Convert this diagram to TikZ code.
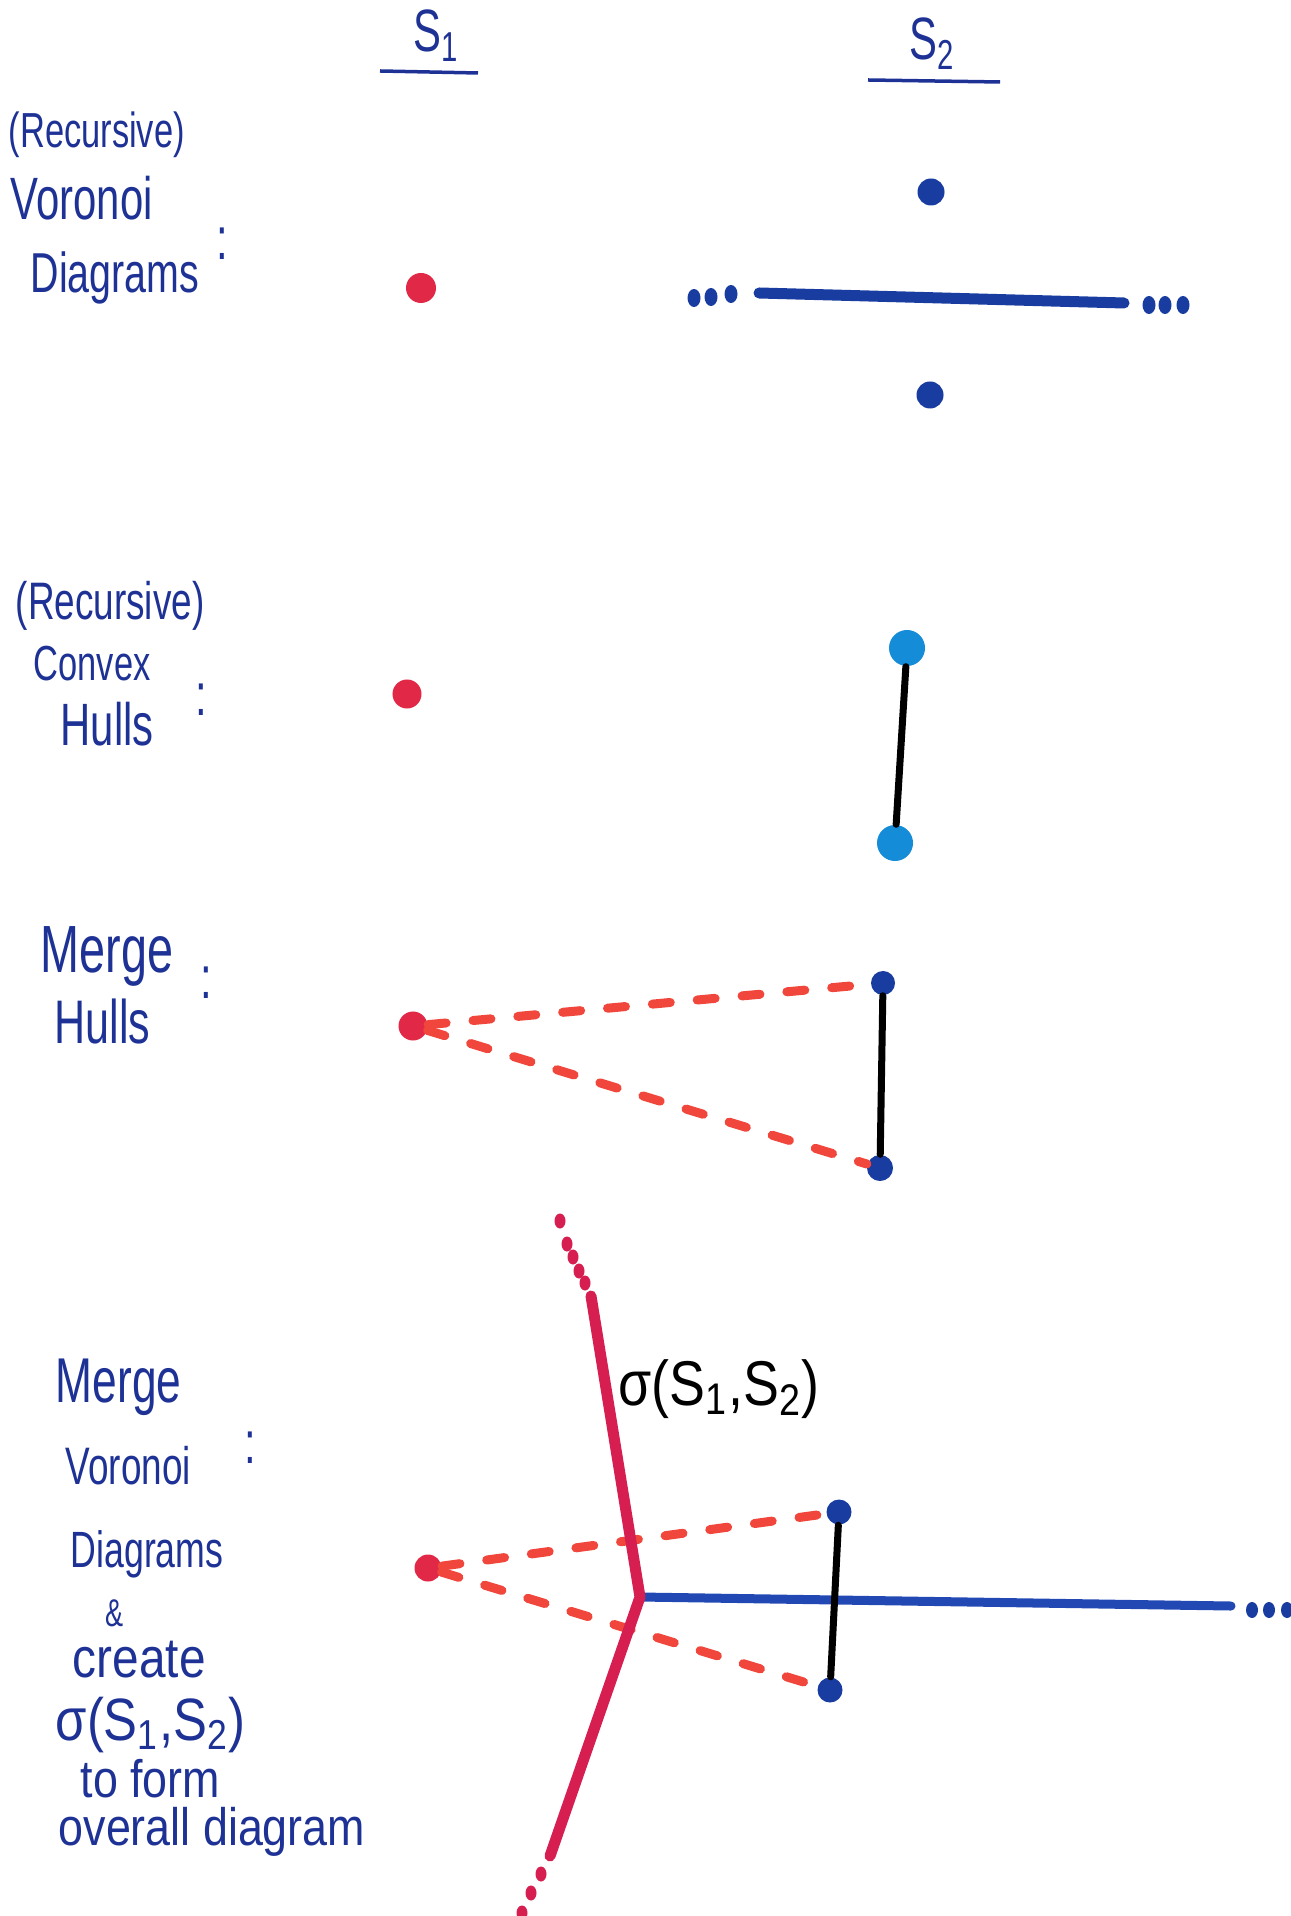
\documentclass[tikz,border=0pt]{standalone}
\usepackage{fontspec}
\usepackage{xcolor}
\newfontfamily\hand[FakeStretch=0.7]{Liberation Sans}
\newfontfamily\handwide[FakeStretch=0.85]{Liberation Sans}
\newcommand{\handsize}[1]{\hand\fontsize{#1}{#1}\selectfont}
\newcommand{\handwsize}[1]{\handwide\fontsize{#1}{#1}\selectfont}
\definecolor{ink}{HTML}{1E3296}
\definecolor{siteblue}{HTML}{193CA0}
\definecolor{lineblue}{HTML}{2248B4}
\definecolor{hullblue}{HTML}{148CD7}
\definecolor{sitered}{HTML}{E12846}
\definecolor{dashred}{HTML}{F0463C}
\definecolor{sigred}{HTML}{D71E50}

\begin{document}
\begin{tikzpicture}[
    x=0.01cm, y=-0.01cm,
    hand/.style={
        font=\handsize{#1},
        text=ink,
        inner sep=0pt,
        anchor=base west
    },
    hand/.default=17,
    handw/.style={
        hand,
        font=\handwsize{#1}
    },
    colon/.style={
        font=\handsize{17},
        text=ink,
        inner sep=0pt
    },
    site/.style={
        circle,
        fill=#1,
        inner sep=0pt,
        minimum size=0.26cm
    },
    hull/.style={
        line width=0.07cm,
        black,
        line cap=round
    },
    bridge/.style={
        line width=0.09cm,
        dashred,
        line cap=round,
        dash pattern=on 0.18cm off 0.27cm
    },
    cell/.style={
        line width=0.11cm,
        siteblue,
        line cap=round
    },
    sigma/.style={
        line width=0.11cm,
        sigred,
        line cap=round,
        line join=round
    }
]
\useasboundingbox (0,0) rectangle (1290,1916);

% Column heads
\node[hand=17] (s1) at (413,52) {S\textsubscript{1}};
\node[hand=17] (s2) at (909,60) {S\textsubscript{2}};
\coordinate (s1a) at (380,71);
\coordinate (s1b) at (478,73);
\coordinate (s2a) at (868,80);
\coordinate (s2b) at (1000,82);
\draw[ink, line width=0.035cm] (s1a) -- (s1b);
\draw[ink, line width=0.035cm] (s2a) -- (s2b);

% Row 1: recursive Voronoi diagrams
\node[hand=14] (vrec) at (8,148) {(Recursive)};
\node[hand=17] (vvor) at (10,220) {Voronoi};
\node[hand=16] (vdia) at (30,293) {Diagrams};
\node[colon] (vcol) at (222,244) {:};

\node[site=sitered, minimum size=0.3cm] (va) at (421,288) {};
\node[site=siteblue, minimum size=0.27cm] (vb) at (931,192) {};
\node[site=siteblue, minimum size=0.27cm] (vc) at (930,395) {};

\coordinate (vl) at (759,293);
\coordinate (vr) at (1124,303);
\draw[cell] (vl) -- (vr);
\foreach \px/\py in {694/298, 711/297, 731/294, 1149/305, 1165/305, 1183/305}
    \fill[siteblue] (\px,\py) ellipse [x radius=0.065cm, y radius=0.09cm];

% Row 2: recursive convex hulls
\node[hand=15] (hrec) at (15,620) {(Recursive)};
\node[hand=14] (hcon) at (33,681) {Convex};
\node[hand=17] (hhul) at (60,745) {Hulls};
\node[colon] (hcol) at (201,700) {:};

\node[site=sitered, minimum size=0.29cm] (ha) at (407,694) {};
\node[site=hullblue, minimum size=0.36cm] (hb) at (907,648) {};
\node[site=hullblue, minimum size=0.36cm] (hc) at (895,843) {};
\draw[hull] (hb) -- (hc);

% Row 3: merge hulls
\node[hand=19] (mmer) at (40,972) {Merge};
\node[hand=17.5] (mhul) at (54,1043) {Hulls};
\node[colon] (mcol) at (206,983) {:};

\node[site=sitered, minimum size=0.29cm] (ma) at (413,1026) {};
\node[site=siteblue, minimum size=0.24cm] (mb) at (883,983) {};
\node[site=siteblue, minimum size=0.26cm] (mc) at (880,1168) {};
\draw[bridge] (ma) -- (mb);
\draw[bridge] (ma) -- (mc);
\draw[hull] (mb) -- (mc);

% Row 4: merge Voronoi diagrams
\node[hand=18] (wmer) at (55,1402) {Merge};
\node[hand=15] (wvor) at (65,1484) {Voronoi};
\node[hand=14.5] (wdia) at (70,1567) {Diagrams};
\node[hand=11] (wand) at (105,1626) {\&};
\node[handw=16] (wcre) at (72,1677) {create};
\node[handw=17] (wsig) at (55,1740) {σ(S\textsubscript{1},S\textsubscript{2})};
\node[handw=15] (wfor) at (80,1797) {to form};
\node[handw=15] (wove) at (58,1845) {overall diagram};
\node[colon] (wcol) at (250,1448) {:};

\node[site=sitered, minimum size=0.27cm] (wa) at (428,1568) {};
\node[site=siteblue, minimum size=0.25cm] (wb) at (839,1512) {};
\node[site=siteblue, minimum size=0.25cm] (wc) at (830,1690) {};

\coordinate (sigtop) at (591,1296);
\coordinate (sigmid) at (640,1597);
\coordinate (sigbot) at (550,1856);
\coordinate (cellend) at (1231,1606);

\draw[bridge] (wa) -- (wb);
\draw[bridge] (wa) -- (wc);
\draw[cell, lineblue, line width=0.09cm] (sigmid) -- (cellend);
\draw[hull] (wb) -- (wc);
\draw[sigma] (sigtop) -- (sigmid) -- (sigbot);

\foreach \px/\py in {560/1221, 567/1244, 573/1257, 579/1271, 585/1283,
                     541/1874, 531/1893, 522/1913}
    \fill[sigred] (\px,\py) ellipse [x radius=0.055cm, y radius=0.075cm];
\foreach \px in {1252, 1269, 1287}
    \fill[siteblue] (\px,1610) ellipse [x radius=0.06cm, y radius=0.08cm];

\node[handw=18, text=black] (siglabel) at (618,1405) {σ(S\textsubscript{1},S\textsubscript{2})};

\end{tikzpicture}
\end{document}
